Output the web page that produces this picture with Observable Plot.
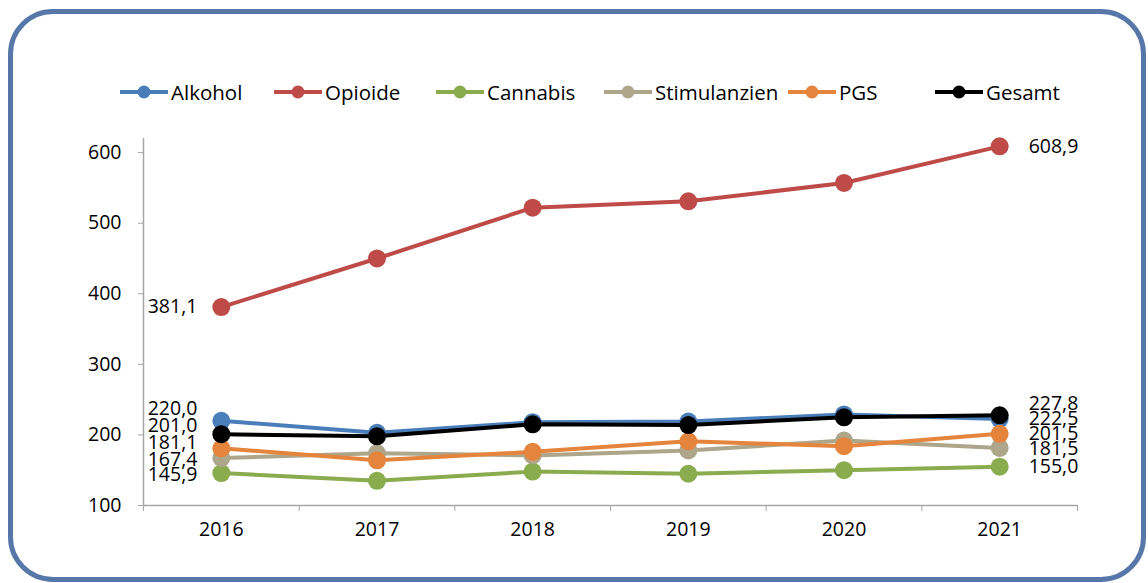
<!DOCTYPE html>
<html>
<head>
<meta charset="utf-8">
<script src="https://cdn.jsdelivr.net/npm/d3@7"></script>
<script src="https://cdn.jsdelivr.net/npm/@observablehq/plot@0.6"></script>
<style>
  html, body { margin: 0; padding: 0; background: #fff; }
  #wrap { position: relative; width: 1148px; height: 583px; overflow: hidden; font-family: "Open Sans", sans-serif; }
  #frame { position: absolute; left: 8px; top: 9px; width: 1138px; height: 573px; box-sizing: border-box;
           border: 5px solid #5877a9; border-radius: 45px; }
  #legend { position: absolute; left: 0; top: 78px; width: 1148px; height: 30px; font-size: 20.5px; color: #000; }
  .item { position: absolute; top: 0; display: flex; align-items: center; gap: 3px; white-space: nowrap; }
  #chart { position: absolute; left: 0; top: 0; }
</style>
</head>
<body>
<div id="wrap">
  <div id="frame"></div>
  <div id="chart"></div>
  <div id="legend"></div>
</div>
<script>
const years = [2016, 2017, 2018, 2019, 2020, 2021];
const seriesNames = ["Alkohol", "Opioide", "Cannabis", "Stimulanzien", "PGS", "Gesamt"];
const seriesColors = ["#4a7ebb", "#be4b48", "#8aab4e", "#ada68b", "#e5843c", "#000000"];
const alkohol = [220.0, 203, 218, 219, 229, 222.5];
const opioide = [381.1, 450, 522, 531, 557, 608.9];
const cannabis = [145.9, 135, 148, 145, 150, 155.0];
const stimulanzien = [167.4, 174, 171, 178, 192, 181.5];
const pgs = [181.1, 164, 176, 191, 184, 201.5];
const gesamt = [201.0, 198, 215, 214, 225, 227.8];
const yTicks = [100, 200, 300, 400, 500, 600];

const seriesValues = [alkohol, opioide, cannabis, stimulanzien, pgs, gesamt];
const rows = [];
seriesNames.forEach((s, i) => years.forEach((y, j) => rows.push({series: s, year: y, value: seriesValues[i][j]})));

const fmt = v => v.toFixed(1).replace(".", ",");
const edges = [2015.5, 2016.5, 2017.5, 2018.5, 2019.5, 2020.5, 2021.5];

// label vertical offsets (pixels) for first / last year labels
const firstDy = {Alkohol: -12, Opioide: 0, Cannabis: 2, Stimulanzien: 2, PGS: -6, Gesamt: -8};
const lastDy = {Alkohol: 0, Opioide: 0, Cannabis: 0, Stimulanzien: 1, PGS: 0, Gesamt: -12};
// legend item left positions (pixels)
const legendX = [120, 274, 436, 604, 788, 935];

const labelMarks = [];
seriesNames.forEach(s => {
  labelMarks.push(Plot.text(rows.filter(d => d.series === s && d.year === years[0]), {
    x: "year", y: "value", text: d => fmt(d.value), textAnchor: "end", dx: -24, dy: firstDy[s],
    fill: "#000", fontSize: 19.5
  }));
  labelMarks.push(Plot.text(rows.filter(d => d.series === s && d.year === years[years.length - 1]), {
    x: "year", y: "value", text: d => fmt(d.value), textAnchor: "start", dx: 29, dy: lastDy[s],
    fill: "#000", fontSize: 19.5
  }));
});

const chart = Plot.plot({
  width: 1148,
  height: 583,
  marginLeft: 143,
  marginRight: 71,
  marginTop: 138,
  marginBottom: 78,
  style: {fontFamily: "Open Sans, sans-serif", fontSize: "19.5px", background: "transparent", color: "#000"},
  x: {type: "linear", domain: [2015.5, 2021.5]},
  y: {domain: [100, 620]},
  color: {domain: seriesNames, range: seriesColors},
  marks: [
    Plot.ruleX([2015.5], {y1: 100, y2: 620, stroke: "#a6a6a6", strokeWidth: 1.5}),
    Plot.ruleY([100], {x1: 2015.5, x2: 2021.5, stroke: "#a6a6a6", strokeWidth: 1.5}),
    Plot.axisY({ticks: yTicks, tickSize: 5, tickPadding: 17, tickFormat: d => String(d), label: null,
                stroke: "#a6a6a6", fill: "#000", fontSize: 19.5}),
    Plot.axisX({ticks: edges, tickSize: 6, tickFormat: () => "", label: null, stroke: "#a6a6a6"}),
    Plot.axisX({ticks: years, tickSize: 0, tickPadding: 17, tickFormat: d => String(d), label: null, fill: "#000", fontSize: 19.5}),
    Plot.line(rows, {x: "year", y: "value", z: "series", stroke: "series", strokeWidth: 4}),
    Plot.dot(rows, {x: "year", y: "value", fill: "series", r: 9}),
    ...labelMarks
  ]
});
document.getElementById("chart").appendChild(chart);

const legend = document.getElementById("legend");
seriesNames.forEach((s, i) => {
  const item = document.createElement("div");
  item.className = "item";
  item.style.left = legendX[i] + "px";
  item.innerHTML = `<svg width="48" height="16"><line x1="0" y1="8" x2="48" y2="8" stroke="${seriesColors[i]}" stroke-width="4"/><circle cx="24" cy="8" r="6.5" fill="${seriesColors[i]}"/></svg><span>${s}</span>`;
  legend.appendChild(item);
});
</script>
</body>
</html>
